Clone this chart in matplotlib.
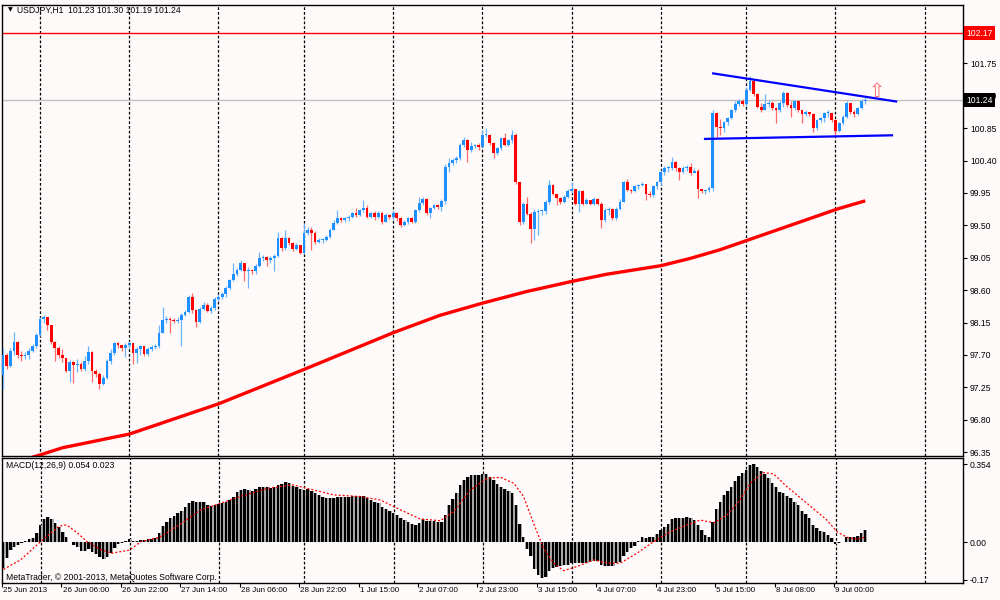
import matplotlib
matplotlib.use('Agg')
import matplotlib.pyplot as plt
from matplotlib.collections import LineCollection, PatchCollection
from matplotlib.patches import Rectangle
from matplotlib.transforms import blended_transform_factory

plt.rcParams['font.family'] = ['Liberation Sans', 'DejaVu Sans']

# hourly sessions on screen: (day, first hour, last hour)
sessions = [('25 Jun', 14, 23), ('26 Jun', 0, 23), ('27 Jun', 0, 23), ('28 Jun', 0, 22),
            ('1 Jul', 0, 23), ('2 Jul', 0, 23), ('3 Jul', 0, 23), ('4 Jul', 0, 23),
            ('5 Jul', 0, 22), ('8 Jul', 0, 23), ('9 Jul', 0, 8)]

first_open = 97.42
closes = [
    97.70, 97.55, 97.76, 97.88, 97.70, 97.68, 97.70, 97.76, 97.82, 97.98,
    98.20, 98.22, 98.12, 97.88, 97.80, 97.70, 97.66, 97.48, 97.60, 97.56,
    97.58, 97.50, 97.62, 97.74, 97.47, 97.44, 97.30, 97.38, 97.62, 97.73,
    97.86, 97.84, 97.79, 97.84, 97.86, 97.72, 97.78, 97.82, 97.71, 97.78,
    97.81, 97.82, 98.00, 98.19, 98.20, 98.18, 98.17, 98.19, 98.25, 98.30,
    98.50, 98.32, 98.16, 98.34, 98.40, 98.31, 98.35, 98.48, 98.51, 98.55,
    98.63, 98.74, 98.83, 98.88, 98.98, 98.86, 98.88, 98.86, 98.93, 99.04,
    99.06, 99.02, 99.04, 99.08, 99.32, 99.18, 99.32, 99.25, 99.17, 99.22,
    99.12, 99.39, 99.44, 99.40, 99.27, 99.30, 99.30, 99.34, 99.44, 99.53,
    99.60, 99.57, 99.60, 99.62, 99.67, 99.64, 99.71, 99.74, 99.62, 99.67,
    99.62, 99.67, 99.55, 99.64, 99.62, 99.67, 99.60, 99.51, 99.55, 99.60,
    99.55, 99.71, 99.81, 99.87, 99.67, 99.74, 99.78, 99.75, 99.84, 100.31,
    100.36, 100.41, 100.43, 100.61, 100.68, 100.54, 100.60, 100.61, 100.59, 100.75,
    100.76, 100.64, 100.50, 100.57, 100.71, 100.62, 100.68, 100.75, 100.10, 99.55,
    99.80, 99.66, 99.45, 99.69, 99.70, 99.70, 99.83, 100.06, 99.94, 99.88,
    99.83, 99.90, 99.97, 100.00, 99.80, 99.97, 99.80, 99.85, 99.80, 99.87,
    99.80, 99.57, 99.71, 99.73, 99.60, 99.73, 99.83, 100.10, 99.99, 99.97,
    100.04, 100.06, 100.07, 99.94, 99.92, 100.04, 100.10, 100.24, 100.29, 100.29,
    100.38, 100.29, 100.24, 100.29, 100.31, 100.22, 100.26, 100.01, 99.97, 99.99,
    100.02, 101.06, 100.87, 100.85, 100.93, 100.99, 101.10, 101.19, 101.23, 101.18,
    101.38, 101.50, 101.32, 101.15, 101.10, 101.18, 101.20, 101.13, 101.10, 101.20,
    101.34, 101.17, 101.13, 101.22, 101.10, 101.04, 101.08, 101.04, 100.85, 100.96,
    100.99, 101.06, 101.06, 100.96, 100.81, 100.92, 101.01, 101.20, 101.08, 101.04,
    101.13, 101.23, 101.24,
]
highs = [
    97.80, 97.72, 97.79, 98.02, 97.90, 97.76, 97.74, 97.79, 97.85, 98.00,
    98.23, 98.25, 98.22, 98.12, 97.90, 97.82, 97.78, 97.66, 97.63, 97.62,
    97.64, 97.60, 97.68, 97.82, 97.76, 97.50, 97.46, 97.42, 97.64, 97.78,
    97.88, 97.88, 97.84, 97.86, 97.90, 97.86, 97.81, 97.84, 97.83, 97.81,
    97.84, 97.85, 98.12, 98.37, 98.24, 98.22, 98.21, 98.22, 98.28, 98.33,
    98.53, 98.56, 98.34, 98.36, 98.43, 98.42, 98.38, 98.50, 98.55, 98.58,
    98.66, 98.76, 98.97, 98.91, 99.02, 98.98, 98.92, 98.90, 98.96, 99.13,
    99.09, 99.08, 99.07, 99.10, 99.41, 99.34, 99.44, 99.34, 99.27, 99.25,
    99.22, 99.53, 99.48, 99.47, 99.42, 99.33, 99.33, 99.36, 99.46, 99.57,
    99.71, 99.62, 99.62, 99.65, 99.69, 99.74, 99.73, 99.85, 99.78, 99.69,
    99.70, 99.70, 99.68, 99.67, 99.66, 99.70, 99.69, 99.62, 99.58, 99.62,
    99.62, 99.73, 99.90, 99.90, 99.88, 99.76, 99.80, 99.80, 99.86, 100.35,
    100.43, 100.43, 100.46, 100.64, 100.73, 100.70, 100.66, 100.63, 100.64, 100.82,
    100.85, 100.77, 100.66, 100.59, 100.73, 100.78, 100.70, 100.82, 100.78, 100.10,
    99.83, 99.89, 99.68, 99.72, 99.72, 99.73, 99.85, 100.13, 100.08, 99.94,
    99.89, 99.92, 100.01, 100.10, 100.00, 99.99, 99.99, 99.88, 99.85, 99.90,
    99.88, 99.83, 99.74, 99.76, 99.74, 99.76, 99.87, 100.12, 100.15, 100.01,
    100.06, 100.08, 100.10, 100.08, 99.97, 100.06, 100.12, 100.27, 100.32, 100.33,
    100.45, 100.39, 100.31, 100.32, 100.34, 100.36, 100.29, 100.28, 100.01, 100.00,
    100.04, 101.10, 101.08, 100.97, 100.95, 101.01, 101.12, 101.22, 101.26, 101.26,
    101.42, 101.57, 101.52, 101.34, 101.20, 101.33, 101.24, 101.22, 101.14, 101.22,
    101.36, 101.35, 101.22, 101.24, 101.24, 101.10, 101.10, 101.08, 101.06, 100.98,
    101.01, 101.08, 101.10, 101.06, 100.96, 100.94, 101.03, 101.22, 101.20, 101.10,
    101.15, 101.26, 101.30,
]
lows = [
    97.22, 97.50, 97.53, 97.70, 97.66, 97.62, 97.64, 97.64, 97.74, 97.80,
    97.96, 98.14, 98.05, 97.85, 97.62, 97.66, 97.60, 97.46, 97.33, 97.31,
    97.46, 97.48, 97.48, 97.58, 97.33, 97.40, 97.22, 97.28, 97.36, 97.58,
    97.70, 97.80, 97.76, 97.67, 97.80, 97.58, 97.59, 97.70, 97.68, 97.68,
    97.76, 97.78, 97.80, 98.00, 98.14, 98.00, 98.14, 98.15, 97.82, 98.24,
    98.28, 98.28, 98.09, 98.14, 98.32, 98.29, 98.28, 98.32, 98.45, 98.48,
    98.50, 98.60, 98.72, 98.80, 98.86, 98.72, 98.63, 98.82, 98.82, 98.92,
    99.01, 98.93, 98.98, 98.86, 99.06, 99.15, 99.16, 99.22, 99.14, 99.16,
    99.10, 99.10, 99.36, 99.16, 99.24, 99.25, 99.26, 99.28, 99.32, 99.43,
    99.52, 99.55, 99.54, 99.56, 99.60, 99.62, 99.63, 99.69, 99.60, 99.60,
    99.58, 99.60, 99.52, 99.54, 99.59, 99.58, 99.56, 99.48, 99.49, 99.52,
    99.53, 99.53, 99.69, 99.78, 99.64, 99.60, 99.72, 99.72, 99.70, 99.80,
    100.24, 100.34, 100.36, 100.41, 100.59, 100.38, 100.52, 100.58, 100.54, 100.59,
    100.72, 100.62, 100.43, 100.48, 100.55, 100.60, 100.60, 100.64, 100.08, 99.50,
    99.52, 99.64, 99.25, 99.29, 99.36, 99.65, 99.66, 99.80, 99.92, 99.78,
    99.80, 99.81, 99.88, 99.95, 99.78, 99.69, 99.78, 99.80, 99.78, 99.78,
    99.78, 99.46, 99.55, 99.64, 99.57, 99.58, 99.71, 99.82, 99.97, 99.95,
    99.96, 100.01, 100.04, 99.85, 99.89, 99.90, 100.00, 100.06, 100.20, 100.24,
    100.27, 100.26, 100.13, 100.22, 100.26, 100.20, 100.22, 99.88, 99.95, 99.93,
    99.96, 99.98, 100.73, 100.75, 100.80, 100.90, 100.97, 101.08, 101.16, 101.16,
    101.16, 101.36, 101.30, 101.13, 101.08, 101.10, 101.14, 101.10, 100.92, 101.08,
    101.15, 101.14, 101.01, 101.10, 101.08, 100.92, 101.02, 101.02, 100.80, 100.82,
    100.94, 100.94, 101.00, 100.94, 100.73, 100.80, 100.90, 100.99, 101.04, 101.01,
    101.03, 101.12, 101.19,
]

# MACD(12,26,9) main value per bar
macd_hist = [
    -0.118, -0.073, -0.035, -0.023, -0.012, -0.005, 0.008, 0.014, 0.018, 0.041,
    0.079, 0.106, 0.114, 0.105, 0.086, 0.068, 0.048, 0.023, 0.002, -0.012,
    -0.023, -0.038, -0.038, -0.030, -0.042, -0.053, -0.065, -0.077, -0.068, -0.047,
    -0.027, -0.009, -0.002, 0.008, 0.014, 0.008, 0.008, 0.011, 0.009, 0.014,
    0.015, 0.020, 0.041, 0.074, 0.094, 0.109, 0.121, 0.132, 0.142, 0.159,
    0.177, 0.188, 0.182, 0.182, 0.182, 0.170, 0.165, 0.168, 0.174, 0.177,
    0.185, 0.192, 0.208, 0.227, 0.238, 0.241, 0.238, 0.235, 0.241, 0.253,
    0.253, 0.250, 0.245, 0.250, 0.261, 0.265, 0.273, 0.268, 0.258, 0.250,
    0.242, 0.238, 0.242, 0.235, 0.226, 0.215, 0.208, 0.200, 0.200, 0.200,
    0.205, 0.208, 0.208, 0.208, 0.211, 0.211, 0.211, 0.211, 0.200, 0.192,
    0.185, 0.177, 0.162, 0.150, 0.142, 0.135, 0.124, 0.112, 0.102, 0.094,
    0.083, 0.079, 0.089, 0.105, 0.097, 0.097, 0.097, 0.094, 0.094, 0.124,
    0.170, 0.195, 0.223, 0.261, 0.283, 0.298, 0.306, 0.306, 0.306, 0.311,
    0.311, 0.298, 0.283, 0.265, 0.253, 0.242, 0.235, 0.226, 0.170, 0.083,
    0.026, -0.032, -0.062, -0.123, -0.148, -0.161, -0.156, -0.129, -0.118, -0.111,
    -0.108, -0.103, -0.103, -0.095, -0.092, -0.092, -0.092, -0.092, -0.088, -0.083,
    -0.083, -0.103, -0.106, -0.108, -0.108, -0.095, -0.088, -0.062, -0.042, -0.027,
    -0.015, 0.008, 0.023, 0.021, 0.023, 0.023, 0.038, 0.056, 0.071, 0.083,
    0.105, 0.109, 0.112, 0.112, 0.114, 0.109, 0.102, 0.079, 0.056, 0.033,
    0.023, 0.094, 0.150, 0.185, 0.215, 0.235, 0.253, 0.280, 0.302, 0.317,
    0.329, 0.350, 0.354, 0.341, 0.326, 0.311, 0.291, 0.268, 0.250, 0.230,
    0.223, 0.212, 0.200, 0.185, 0.170, 0.142, 0.129, 0.109, 0.079, 0.064,
    0.053, 0.048, 0.033, 0.018, -0.008, -0.005, 0.003, 0.023, 0.023, 0.026,
    0.029, 0.041, 0.054,
]
# signal line read at these bar positions
signal_idx = [0, 4.6, 10, 15, 17, 20, 22.5, 26, 29, 34, 37, 42, 47.7, 53, 58.4,
              63.8, 71, 78, 81.7, 89, 96, 101.5, 106.9, 112.2, 117.6, 121.2, 125.7,
              130.2, 133.8, 137.4, 140, 142.7, 145.4, 148.1, 150.8, 154.4, 158.9,
              162.5, 166, 170.5, 175, 179.5, 184, 187.6, 191.2, 194.8, 198.3, 201,
              204.6, 207.3, 210.9, 216.3, 221.6, 224.4, 227, 229.8, 232]
signal_val = [-0.123, -0.080, 0.003, 0.074, 0.079, 0.041, 0.003, -0.032, -0.050, -0.035,
              0.003, 0.023, 0.083, 0.147, 0.177, 0.208, 0.245, 0.261, 0.245, 0.215,
              0.208, 0.192, 0.147, 0.106, 0.098, 0.139, 0.238, 0.291, 0.295, 0.268,
              0.208, 0.086, -0.027, -0.095, -0.129, -0.110, -0.080, -0.095, -0.095,
              -0.050, 0.003, 0.048, 0.079, 0.101, 0.089, 0.124, 0.192, 0.268, 0.317,
              0.311, 0.253, 0.177, 0.102, 0.048, 0.023, 0.014, 0.023]

# long moving average (red), read at these bar positions
ma_idx = [8, 10, 16, 34, 58, 63.8, 81.1, 105.1, 117.6, 129.1, 140.9, 153, 162.4,
          177.1, 184.9, 192.9, 224.7, 232]
ma_val = [96.28, 96.31, 96.41, 96.60, 97.02, 97.14, 97.50, 98.01, 98.25, 98.42, 98.58,
          98.72, 98.82, 98.94, 99.04, 99.16, 99.73, 99.84]

resistance = 102.17
bid = 101.24
upper_trend = ([191.1, 240.3], [101.61, 101.22])
lower_trend = ([188.9, 239.2], [100.70, 100.75])
arrow_at = (235.2, 101.36)

price_ticks = [101.75, 101.30, 100.85, 100.40, 99.95, 99.50, 99.05, 98.60,
               98.15, 97.70, 97.25, 96.80, 96.35]
macd_ticks = [0.354, 0.0, -0.17]
macd_tick_labels = ['0.354', '0.00', '-0.17']

BG = '#FFFAFA'
BULL = '#1E90FF'
BULL_WICK = '#6CB4FF'
BEAR = '#FF0000'
BEAR_WICK = '#FF6A6A'
GRID_DASH = (0, (2.2, 1.6))


def bar_times():
    times = []
    for day, h0, h1 in sessions:
        for h in range(h0, h1 + 1):
            times.append((day, h))
    return times


def main():
    times = bar_times()
    n = len(closes)
    opens = [first_open] + closes[:-1]
    day_starts = [i for i, (d, h) in enumerate(times) if h == 0]
    day_starts.append(len(times) + 23 - times[-1][1])  # next midnight, empty space

    fig = plt.figure(figsize=(10, 6), dpi=100, facecolor=BG)
    ax = fig.add_axes([0.002, 1 - 456 / 600, 0.961, 451 / 600], facecolor=BG)
    ax2 = fig.add_axes([0.002, 1 - 583 / 600, 0.961, 125 / 600], facecolor=BG)

    for a in (ax, ax2):
        a.set_xlim(-0.22, 258.3)
        for s in a.spines.values():
            s.set_color('black')
            s.set_linewidth(1.0)
        for d in day_starts:
            a.axvline(d, color='black', lw=0.9, ls=GRID_DASH, zorder=1)
        a.yaxis.tick_right()
        a.tick_params(axis='y', direction='out', length=3, width=0.8, pad=2,
                      labelsize=6.2, colors='black')

    # price panel
    ax.set_ylim(96.296, 102.56)
    ax.set_yticks(price_ticks)
    ax.set_yticklabels([f'{v:.2f}' for v in price_ticks])
    ax.set_xticks([])

    ax.axhline(resistance, color='red', lw=1.0, zorder=1.5)
    ax.axhline(bid, color='#C0C0C0', lw=1.0, zorder=1.5)
    ax.plot(ma_idx, ma_val, color='red', lw=2.4, solid_capstyle='butt', zorder=2)

    wicks, wick_cols, bodies, body_cols = [], [], [], []
    for i in range(n):
        o, c = opens[i], closes[i]
        h = max(highs[i], o, c)
        l = min(lows[i], o, c)
        up = c >= o
        wicks.append([(i, l), (i, h)])
        wick_cols.append(BULL_WICK if up else BEAR_WICK)
        lo_b = min(o, c)
        hgt = max(abs(c - o), 0.014)
        bodies.append(Rectangle((i - 0.37, lo_b), 0.74, hgt))
        body_cols.append(BULL if up else BEAR)
    ax.add_collection(LineCollection(wicks, colors=wick_cols, linewidths=0.9, zorder=3))
    ax.add_collection(PatchCollection(bodies, facecolors=body_cols, edgecolors='none', zorder=3.5))

    ax.plot(*upper_trend, color='blue', lw=1.6, zorder=4)
    ax.plot(*lower_trend, color='blue', lw=1.6, zorder=4)
    ax.text(arrow_at[0], arrow_at[1], '\u21e7', color='#FF6A6A', fontsize=14,
            ha='center', va='center', family='DejaVu Sans', zorder=5)

    trans = blended_transform_factory(ax.transAxes, ax.transData)
    for val, bg in ((resistance, 'red'), (bid, 'black')):
        ax.text(1.0035, val, f'{val:.2f}', transform=trans, color='white', fontsize=6.2,
                ha='left', va='center', clip_on=False, zorder=10,
                bbox=dict(boxstyle='square,pad=0.3', fc=bg, ec='none'))

    fig.text(0.008, 1 - 10 / 600, '\u25bc', fontsize=4.5, va='center', ha='left',
             family='DejaVu Sans')
    fig.text(0.017, 1 - 10 / 600,
             f'USDJPY,H1  {opens[-1]:.2f} {highs[-1]:.2f} {lows[-1]:.2f} {closes[-1]:.2f}',
             fontsize=6.2, va='center', ha='left')

    # MACD panel
    ax2.set_ylim(-0.185, 0.383)
    idx = list(range(n))
    ax2.bar(idx, macd_hist, width=1.0, color='#A6A6A6', linewidth=0, zorder=2)
    ax2.bar([i - 0.12 for i in idx], macd_hist, width=0.62, color='black', linewidth=0, zorder=2.5)
    ax2.plot(signal_idx, signal_val, color='red', lw=0.9, ls=(0, (1.6, 1.6)), zorder=3)
    ax2.set_yticks(macd_ticks)
    ax2.set_yticklabels(macd_tick_labels)

    fig.text(0.006, 1 - 466 / 600,
             f'MACD(12,26,9) {macd_hist[-1]:.3f} {signal_val[-1]:.3f}',
             fontsize=6.2, va='center', ha='left')
    fig.text(0.006, 1 - 577 / 600, 'MetaTrader, \u00a9 2001-2013, MetaQuotes Software Corp.',
             fontsize=6.2, va='center', ha='left')

    label_idx = list(range(0, n, 16))
    ax2.set_xticks([i - 0.4 for i in label_idx])
    ax2.set_xticklabels([])
    ax2.tick_params(axis='x', direction='out', length=3, width=0.8, colors='black')
    xtrans = blended_transform_factory(ax2.transData, fig.transFigure)
    for i in label_idx:
        day, hour = times[i]
        text = f'{day} 2013' if i == 0 else f'{day} {hour:02d}:00'
        ax2.text(i - 0.1, 1 - 591 / 600, text, transform=xtrans, fontsize=5.8,
                 ha='left', va='center', clip_on=False)

    fig.savefig('out.png', dpi=100, facecolor=BG)


if __name__ == '__main__':
    main()
